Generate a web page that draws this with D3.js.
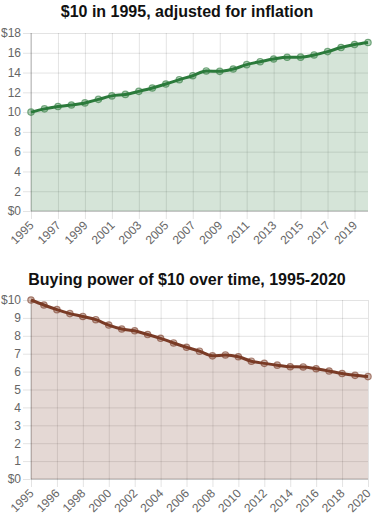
<!DOCTYPE html>
<html>
<head>
<meta charset="utf-8">
<script src="https://cdn.jsdelivr.net/npm/d3@7"></script>
<style>
  html, body { margin: 0; padding: 0; background: #fff; }
  svg { display: block; font-family: "Liberation Sans", Arial, sans-serif; }
</style>
</head>
<body>
<svg id="chart" width="376" height="518"></svg>
<script>
// ---- Data ----
const title1 = "$10 in 1995, adjusted for inflation";
const years1 = [1995,1996,1997,1998,1999,2000,2001,2002,2003,2004,2005,2006,2007,2008,2009,2010,2011,2012,2013,2014,2015,2016,2017,2018,2019,2020];
const adjusted = [10.0,10.33,10.56,10.72,10.93,11.29,11.64,11.79,12.1,12.44,12.84,13.28,13.68,14.16,14.12,14.36,14.8,15.1,15.37,15.55,15.56,15.78,16.12,16.53,16.83,17.04];
const xTicks1 = [1995,1997,1999,2001,2003,2005,2007,2009,2011,2013,2015,2017,2019];
const yTicks1 = [0,2,4,6,8,10,12,14,16,18];
const yLabels1 = ["$0","2","4","6","8","10","12","14","16","$18"];

const title2 = "Buying power of $10 over time, 1995-2020";
const labels2 = ["1995","1995","1996","1997","1998","1999","2000","2001","2002","2003","2004","2005","2006","2007","2008","2009","2010","2011","2012","2013","2014","2015","2016","2017","2018","2019","2020"];
const buyingPower = [10.0,9.72,9.46,9.24,9.08,8.9,8.6,8.38,8.28,8.07,7.86,7.6,7.36,7.14,6.88,6.93,6.83,6.58,6.46,6.36,6.27,6.26,6.16,6.03,5.89,5.79,5.72];
const xTickIdx2 = [0,2,4,6,8,10,12,14,16,18,20,22,24,26];
const yTicks2 = [0,1,2,3,4,5,6,7,8,9,10];
const yLabels2 = ["$0","1","2","3","4","5","6","7","8","9","$10"];

// ---- Drawing ----
const svg = d3.select("#chart");
const left = 31, right = 368, tickLen = 8;

function drawChart(opts) {
  const g = svg.append("g");
  const {x, y, top, bottom, xVals, yVals, xTickVals, xTickFmt, yTickVals, yTickFmt, color, fill, title, titleY} = opts;

  g.append("text")
    .attr("x", 187).attr("y", titleY)
    .attr("text-anchor", "middle")
    .attr("font-size", 16).attr("font-weight", "bold")
    .attr("fill", "#111")
    .text(title);

  // y axis with gridlines
  const yAxis = d3.axisLeft(y)
    .tickValues(yTickVals)
    .tickFormat((d, i) => yTickFmt[i])
    .tickSize(-(right - left + tickLen))
    .tickPadding(2);
  const ya = g.append("g").attr("transform", `translate(${left - tickLen},0)`).call(yAxis);
  ya.select(".domain").remove();
  ya.selectAll(".tick line").attr("stroke", "rgba(0,0,0,0.11)");
  ya.selectAll(".tick text").attr("fill", "#666").attr("font-size", 12)
    .attr("font-family", "Liberation Sans, Arial, sans-serif");

  // x axis with gridlines
  const xAxis = d3.axisBottom(x)
    .tickValues(xTickVals)
    .tickFormat(xTickFmt)
    .tickSize(-(bottom - top + tickLen))
    .tickPadding(0);
  const xa = g.append("g").attr("transform", `translate(0,${bottom + tickLen})`).call(xAxis);
  xa.select(".domain").remove();
  xa.selectAll(".tick line").attr("stroke", "rgba(0,0,0,0.11)");
  xa.selectAll(".tick text")
    .attr("fill", "#666").attr("font-size", 12)
    .attr("font-family", "Liberation Sans, Arial, sans-serif")
    .attr("text-anchor", "end")
    .attr("y", 0).attr("dy", 0)
    .attr("transform", "translate(3,7) rotate(-45)");

  // axis lines
  g.append("line").attr("x1", left).attr("x2", left).attr("y1", top).attr("y2", bottom)
    .attr("stroke", "rgba(0,0,0,0.25)");
  g.append("line").attr("x1", left).attr("x2", right).attr("y1", bottom).attr("y2", bottom)
    .attr("stroke", "rgba(0,0,0,0.25)");

  const pts = xVals.map((xv, i) => [x(xv), y(yVals[i])]);
  const area = d3.area().x(d => d[0]).y0(y(0)).y1(d => d[1]).curve(d3.curveMonotoneX);
  const line = d3.line().x(d => d[0]).y(d => d[1]).curve(d3.curveMonotoneX);

  g.append("path").attr("d", area(pts)).attr("fill", fill);
  g.append("path").attr("d", line(pts)).attr("fill", "none")
    .attr("stroke", color).attr("stroke-width", 3).attr("stroke-linejoin", "round");
  g.selectAll("circle.pt").data(pts).enter().append("circle")
    .attr("cx", d => d[0]).attr("cy", d => d[1]).attr("r", 3.2)
    .attr("fill", fill.replace("0.2", "0.35"))
    .attr("stroke", color).attr("stroke-opacity", 0.6).attr("stroke-width", 1.2);
}

// Chart 1
const x1 = d3.scaleLinear().domain([1995, 2020]).range([left, right]);
const y1 = d3.scaleLinear().domain([0, 18]).range([211, 33]);
drawChart({
  x: x1, y: y1, top: 33, bottom: 211,
  xVals: years1, yVals: adjusted,
  xTickVals: xTicks1, xTickFmt: d => String(d),
  yTickVals: yTicks1, yTickFmt: yLabels1,
  color: "#2b7a3b", fill: "rgba(43,122,59,0.2)",
  title: title1, titleY: 17
});

// Chart 2
const idx2 = labels2.map((d, i) => i);
const x2 = d3.scaleLinear().domain([0, labels2.length - 1]).range([left, right]);
const y2 = d3.scaleLinear().domain([0, 10]).range([479, 300]);
drawChart({
  x: x2, y: y2, top: 300, bottom: 479,
  xVals: idx2, yVals: buyingPower,
  xTickVals: xTickIdx2, xTickFmt: d => labels2[d],
  yTickVals: yTicks2, yTickFmt: yLabels2,
  color: "#7a3b26", fill: "rgba(122,59,38,0.2)",
  title: title2, titleY: 285
});
</script>
</body>
</html>
